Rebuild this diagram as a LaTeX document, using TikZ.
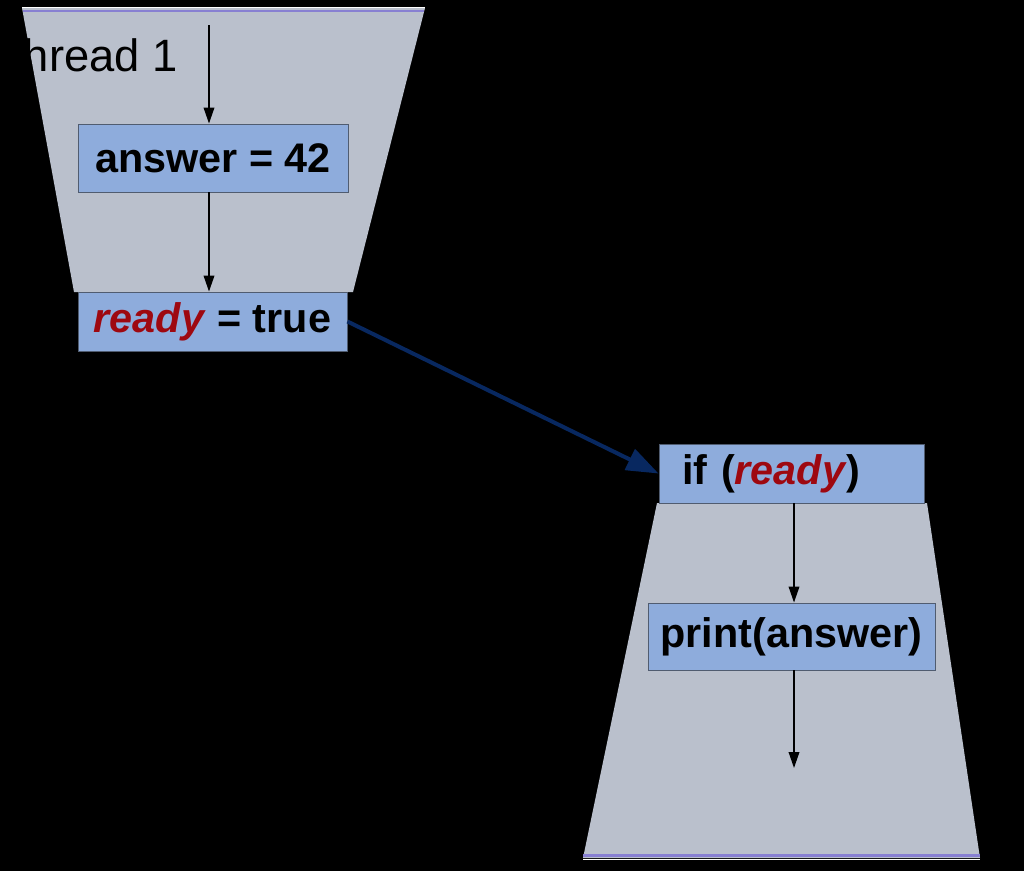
\documentclass[tikz,border=0pt]{standalone}
\usepackage{fontspec}
\setmainfont{Liberation Sans}
\usetikzlibrary{arrows.meta}
\definecolor{panelgray}{RGB}{186,192,204}
\definecolor{boxfill}{RGB}{142,172,220}
\definecolor{boxline}{RGB}{80,92,112}
\definecolor{readyred}{RGB}{158,8,16}
\definecolor{signalblue}{RGB}{8,40,96}
\definecolor{stripe}{RGB}{136,128,210}
\begin{document}
\begin{tikzpicture}[x=0.75pt,y=-0.75pt,
  box/.style={draw=boxline, line width=0.7pt, fill=boxfill, inner sep=0pt,
    font=\fontsize{31}{36}\selectfont\bfseries},
  flow/.style={-{Triangle[length=12pt,width=8pt]}, line width=1.1pt, black},
  signal/.style={-{Triangle[length=24pt,width=17pt]}, line width=3pt, signalblue},
  panel/.style={fill=panelgray}]
\fill[black] (0,0) rectangle (1024,871);
\useasboundingbox (0,0) rectangle (1024,871);
% thread panels
\fill[panel] (22,8) -- (425,8) -- (353,292) -- (74,292) -- cycle;
\draw[stripe, line width=2pt] (22.5,11) -- (424.3,11);
\draw[white, line width=1.2pt] (22,7.5) -- (425,7.5);
\fill[panel] (657,503) -- (927,503) -- (980,858) -- (583,858) -- cycle;
\draw[stripe, line width=2pt] (583.3,855.5) -- (979.7,855.5);
\draw[white, line width=1.2pt] (583,859.5) -- (980,859.5);
% label
\node[font=\fontsize{34}{38}\selectfont, anchor=base east, inner sep=0pt, text=black] (thread) at (178,71) {Thread 1};
% boxes
\node[box, minimum width=202.5pt, minimum height=51pt] (answer) at (213,158) {answer = 42};
\node[box, minimum width=201.75pt, minimum height=44.25pt] (ready) at (212.5,321.5) {\textcolor{readyred}{\textit{ready}} = true};
\node[box, minimum width=198.75pt, minimum height=44.25pt, text width=164.25pt, align=left] (if) at (791.5,473.5) {if (\textcolor{readyred}{\textit{ready}})};
\node[box, minimum width=215.25pt, minimum height=50.25pt] (print) at (791.5,636.5) {print(answer)};
% connectors
\coordinate (t1) at (209,25);
\coordinate (b1) at (794,768);
\draw[flow] (t1) -- (answer.north -| t1);
\draw[flow] (answer.south -| t1) -- (ready.north -| t1);
\draw[flow] (if.south -| b1) -- (print.north -| b1);
\draw[flow] (print.south -| b1) -- (b1);
\draw[signal] (ready.east) -- (if.west);
\end{tikzpicture}
\end{document}
